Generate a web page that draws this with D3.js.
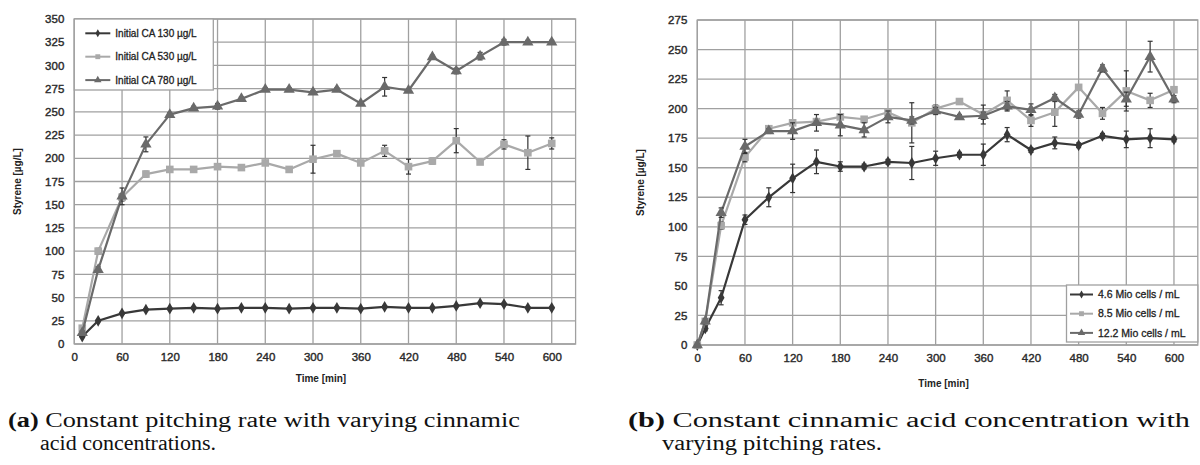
<!DOCTYPE html>
<html><head><meta charset="utf-8">
<script src="https://cdn.jsdelivr.net/npm/d3@7"></script>
<style>
html,body{margin:0;padding:0;background:#fff;}
svg{display:block;}
</style></head>
<body>
<svg id="chart" width="1200" height="465"></svg>
<script>
// ---- Data: panel (a) ----
const timeA = [10,30,60,90,120,150,180,210,240,270,300,330,360,390,420,450,480,510,540,570,600];
const ca130 = [8,25,33,37,38,39,38,39,39,38,39,39,38,40,39,39,41,44,43,39,39];
const ca130Err = [1,1,1,1,1,1,1,1,1,1,1,1,1,1,1,1,1,1,1,1,1];
const ca530 = [17,100,158,183,188,188,191,190,195,188,199,205,195,208,191,197,219,196,215,206,216];
const ca530Err = [2,3,4,3,2,2,2,2,2,3,15,2,2,6,8,3,13,2,5,18,6];
const ca780 = [12,80,159,215,247,254,256,264,274,274,271,274,259,277,273,309,294,310,325,325,325];
const ca780Err = [2,3,9,8,2,2,3,2,2,2,2,2,2,10,2,2,3,4,3,2,2];
const legendA = ["Initial CA 130 µg/L","Initial CA 530 µg/L","Initial CA 780 µg/L"];
const yTicksA = [0,25,50,75,100,125,150,175,200,225,250,275,300,325,350];

// ---- Data: panel (b) ----
const timeB = [0,10,30,60,90,120,150,180,210,240,270,300,330,360,390,420,450,480,510,540,570,600];
const c46 = [0,14,40,106,125,141,155,151,151,155,154,158,161,161,178,165,171,169,177,174,175,174];
const c46Err = [0,2,6,4,8,12,10,4,2,2,14,6,2,9,6,2,5,2,2,7,8,2];
const c85 = [0,20,101,159,183,188,189,193,191,197,188,200,206,195,207,190,197,218,196,215,207,216];
const c85Err = [0,2,3,4,2,2,2,2,2,2,17,3,2,8,8,5,12,2,5,17,6,2];
const c122 = [0,20,112,168,181,181,188,186,182,193,190,198,193,194,202,199,209,195,234,208,244,208];
const c122Err = [0,2,4,6,2,7,7,9,6,5,3,3,2,3,4,5,3,3,3,6,13,3];
const legendB = ["4.6 Mio cells / mL","8.5 Mio cells / mL","12.2 Mio cells / mL"];
const yTicksB = [0,25,50,75,100,125,150,175,200,225,250,275];

const xTicks = [0,60,120,180,240,300,360,420,480,540,600];
const captionA = ["(a)"," Constant pitching rate with varying cinnamic","acid concentrations."];
const captionB = ["(b)"," Constant cinnamic acid concentration with","varying pitching rates."];

const colors = ["#383838","#a9a9a9","#6a6a6a"];
const shapes = [d3.symbolDiamond, d3.symbolSquare, d3.symbolTriangle];

const svg = d3.select("#chart");
const FONT = "'Liberation Sans', Arial, sans-serif";
const SERIF = "'Liberation Serif', 'DejaVu Serif', serif";

function panel(cfg){
  const g = svg.append("g");
  const x = d3.scaleLinear().domain([0,630]).range([cfg.left, cfg.right]);
  const y = d3.scaleLinear().domain([0,cfg.ymax]).range([cfg.bottom, cfg.top]);

  // grid
  const gg = g.append("g");
  gg.selectAll("line.h").data(cfg.yTicks).join("line")
    .attr("x1",cfg.left).attr("x2",cfg.right)
    .attr("y1",d=>y(d)).attr("y2",d=>y(d))
    .attr("stroke","#a0a0a0").attr("stroke-width",1.3);
  gg.selectAll("line.v").data(xTicks).join("line")
    .attr("y1",cfg.top).attr("y2",cfg.bottom)
    .attr("x1",d=>x(d)).attr("x2",d=>x(d))
    .attr("stroke","#a0a0a0").attr("stroke-width",1.3);
  g.append("rect").attr("x",cfg.left).attr("y",cfg.top)
    .attr("width",cfg.right-cfg.left).attr("height",cfg.bottom-cfg.top)
    .attr("fill","none").attr("stroke","#a0a0a0").attr("stroke-width",1.3);

  // axes (labels via d3 axes)
  const ya = d3.axisLeft(y).tickValues(cfg.yTicks).tickSize(0).tickPadding(10);
  const yg = g.append("g").attr("transform",`translate(${cfg.left},0)`).call(ya);
  const xa = d3.axisBottom(x).tickValues(xTicks).tickSize(0).tickPadding(9);
  const xg = g.append("g").attr("transform",`translate(0,${cfg.bottom})`).call(xa);
  [yg,xg].forEach(a=>{
    a.select(".domain").remove();
    a.selectAll("text").attr("font-family",FONT).attr("font-size",11.5)
      .attr("fill","#2a2a2a").attr("stroke","#2a2a2a").attr("stroke-width",0.4);
  });

  // axis titles
  g.append("text").attr("transform",`translate(${cfg.left-57},${(cfg.top+cfg.bottom)/2}) rotate(-90)`)
    .attr("text-anchor","middle").attr("dy","0.35em")
    .attr("font-family",FONT).attr("font-size",10).attr("font-weight","bold").attr("fill","#222")
    .text("Styrene [µg/L]");
  g.append("text").attr("x",(cfg.left+cfg.right)/2-4).attr("y",cfg.bottom+cfg.xTitleDy)
    .attr("text-anchor","middle")
    .attr("font-family",FONT).attr("font-size",10).attr("font-weight","bold").attr("fill","#222")
    .text("Time [min]");

  // series
  const line = d3.line().x(d=>x(d.t)).y(d=>y(d.v));
  cfg.series.forEach((s,i)=>{
    const pts = cfg.time.map((t,k)=>({t, v:s.vals[k], e:s.err[k]}));
    const sg = g.append("g");
    sg.append("path").datum(pts).attr("d",line).attr("fill","none")
      .attr("stroke",colors[i]).attr("stroke-width",2.2).attr("stroke-linejoin","round");
    // error bars
    const eb = sg.selectAll("g.eb").data(pts.filter(p=>p.e>0)).join("g");
    eb.append("line").attr("x1",d=>x(d.t)).attr("x2",d=>x(d.t))
      .attr("y1",d=>y(d.v-d.e)).attr("y2",d=>y(d.v+d.e)).attr("stroke","#333").attr("stroke-width",1.2);
    eb.append("line").attr("x1",d=>x(d.t)-2.5).attr("x2",d=>x(d.t)+2.5)
      .attr("y1",d=>y(d.v-d.e)).attr("y2",d=>y(d.v-d.e)).attr("stroke","#333").attr("stroke-width",1.2);
    eb.append("line").attr("x1",d=>x(d.t)-2.5).attr("x2",d=>x(d.t)+2.5)
      .attr("y1",d=>y(d.v+d.e)).attr("y2",d=>y(d.v+d.e)).attr("stroke","#333").attr("stroke-width",1.2);
    const sym = d3.symbol().type(shapes[i]).size(i===0?40:i===1?58:55);
    sg.selectAll("path.m").data(pts).join("path")
      .attr("transform",d=>`translate(${x(d.t)},${y(d.v)})`)
      .attr("d",sym).attr("fill",colors[i]);
  });

  // legend
  const L = cfg.legend;
  const lg = g.append("g");
  lg.append("rect").attr("x",L.x).attr("y",L.y).attr("width",L.w).attr("height",L.h)
    .attr("fill","#fff").attr("stroke","#a0a0a0").attr("stroke-width",1.3);
  cfg.legendLabels.forEach((lab,i)=>{
    const yy = L.y + L.first + i*L.step;
    lg.append("line").attr("x1",L.x+L.lx).attr("x2",L.x+L.lx+L.lw).attr("y1",yy).attr("y2",yy)
      .attr("stroke",colors[i]).attr("stroke-width",2);
    lg.append("path").attr("transform",`translate(${L.x+L.lx+L.lw/2},${yy})`)
      .attr("d",d3.symbol().type(shapes[i]).size(i===0?18:24)).attr("fill",colors[i]);
    lg.append("text").attr("x",L.x+L.lx+L.lw+5).attr("y",yy).attr("dy","0.35em")
      .attr("font-family",FONT).attr("font-size",L.fs).attr("fill","#222")
      .attr("stroke","#222").attr("stroke-width",0.3)
      .text(lab);
  });

  // caption
  const C = cfg.caption;
  const t1 = g.append("text").attr("x",C.x).attr("y",427)
    .attr("font-family",SERIF).attr("font-size",20).attr("fill","#111")
    .attr("textLength",C.w1).attr("lengthAdjust","spacingAndGlyphs");
  t1.append("tspan").attr("font-weight","bold").text(C.lines[0]);
  t1.append("tspan").text(C.lines[1]);
  g.append("text").attr("x",C.x2).attr("y",450)
    .attr("font-family",SERIF).attr("font-size",20).attr("fill","#111")
    .attr("textLength",C.w2).attr("lengthAdjust","spacingAndGlyphs")
    .text(C.lines[2]);
}

panel({
  left:74.3, right:575.6, top:19, bottom:344, ymax:350, yTicks:yTicksA,
  time:timeA, xTitleDy:38,
  series:[{vals:ca130,err:ca130Err},{vals:ca530,err:ca530Err},{vals:ca780,err:ca780Err}],
  legendLabels:legendA,
  legend:{x:74.3,y:19,w:139,h:71,first:14.3,step:23.4,lx:11,lw:25,fs:10},
  caption:{x:8,w1:512,x2:40,w2:176,lines:captionA}
});
panel({
  left:697.3, right:1197.8, top:20, bottom:345, ymax:275, yTicks:yTicksB,
  time:timeB, xTitleDy:42,
  series:[{vals:c46,err:c46Err},{vals:c85,err:c85Err},{vals:c122,err:c122Err}],
  legendLabels:legendB,
  legend:{x:1066.5,y:285,w:131.3,h:57,first:9.5,step:19.2,lx:3.5,lw:23,fs:10.5},
  caption:{x:628,w1:562,x2:662,w2:220,lines:captionB}
});
</script>
</body></html>
